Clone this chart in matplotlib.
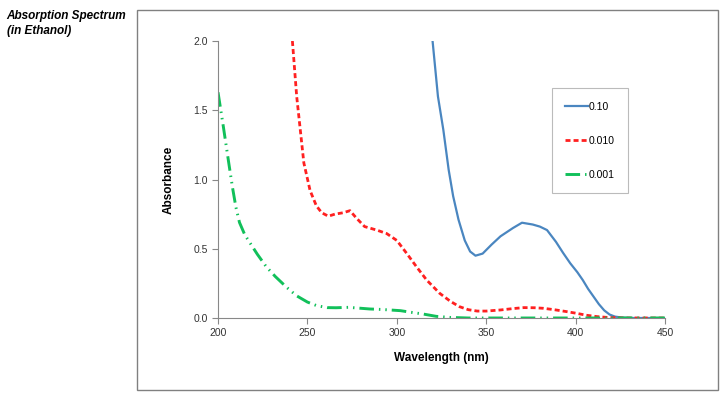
import matplotlib.pyplot as plt
from matplotlib.patches import Rectangle

plt.rcParams['font.family'] = ['Liberation Sans', 'DejaVu Sans']

# 0.10 series
wl_010 = [320, 323, 326, 329, 331.5, 334.5, 338, 341, 344, 348, 353, 358, 365, 370, 376, 380, 384, 389,
          393, 397, 401, 404, 407, 410, 413, 416, 419, 422, 426, 432, 440, 450]
ab_010 = [2.0, 1.6, 1.36, 1.07, 0.88, 0.71, 0.56, 0.48, 0.45, 0.465, 0.53, 0.59, 0.65, 0.688, 0.675, 0.66,
          0.635, 0.55, 0.47, 0.395, 0.33, 0.274, 0.21, 0.155, 0.1, 0.055, 0.025, 0.01, 0.003, 0.0, 0.0, 0.0]

# 0.010 series
wl_0010 = [241.6, 244, 246, 248, 251.5, 255, 258, 261.7, 265.4, 270, 273.8, 277.5, 282, 288.7, 294.3, 300,
           305.5, 311, 316.7, 324, 330, 335, 340, 345, 350, 358, 365, 371, 377, 382, 388, 395, 400, 406,
           412, 417, 422, 430, 440, 450]
ab_0010 = [2.0, 1.6, 1.36, 1.12, 0.92, 0.81, 0.76, 0.735, 0.75, 0.76, 0.775, 0.72, 0.66, 0.635, 0.61, 0.56,
           0.467, 0.37, 0.274, 0.178, 0.12, 0.082, 0.06, 0.05, 0.05, 0.058, 0.068, 0.075, 0.074, 0.07, 0.06,
           0.046, 0.035, 0.02, 0.01, 0.005, 0.002, 0.0, 0.0, 0.0]

# 0.001 series
wl_0001 = [200, 203, 206, 208, 210, 212, 215, 218, 222, 227, 232, 238.5, 244, 250, 255, 261, 266, 273,
           280, 285, 291, 296, 302, 307, 315, 322, 330, 340, 360, 400, 450]
ab_0001 = [1.63, 1.38, 1.12, 0.95, 0.8, 0.69, 0.6, 0.54, 0.46, 0.37, 0.3, 0.22, 0.16, 0.115, 0.09, 0.075,
           0.074, 0.077, 0.07, 0.065, 0.062, 0.058, 0.053, 0.043, 0.028, 0.012, 0.004, 0.0, 0.0, 0.0, 0.0]

labels = ['0.10', '0.010', '0.001']

fig = plt.figure(figsize=(7.26, 3.97), dpi=100)
ax = fig.add_axes([0.3003, 0.199, 0.6157, 0.6977])

# outer chart frame
fig.patches.append(Rectangle((0.1887, 0.0176), 0.8003, 0.957, transform=fig.transFigure,
                             fill=False, edgecolor='#808080', linewidth=1.0))

fig.text(0.009, 0.975, 'Absorption Spectrum\n(in Ethanol)', fontsize=8.5, fontweight='bold',
         fontstyle='italic', va='top', ha='left', linespacing=1.3)

ax.plot(wl_010, ab_010, color='#4a86c0', linewidth=1.6, label=labels[0])
ax.plot(wl_0010, ab_0010, color='#ff2020', linewidth=2.0, linestyle=(0, (1.8, 1.1)), label=labels[1])
ax.plot(wl_0001, ab_0001, color='#11c05a', linewidth=2.1,
        linestyle=(0, (5, 1.7, 0.5, 1.7, 0.5, 1.7)), label=labels[2])

ax.set_xlim(200, 450)
ax.set_ylim(0, 2.0)
ax.set_xticks([200, 250, 300, 350, 400, 450])
ax.set_yticks([0.0, 0.5, 1.0, 1.5, 2.0])
ax.set_yticklabels(['0.0', '0.5', '1.0', '1.5', '2.0'])

for side in ['top', 'right']:
    ax.spines[side].set_visible(False)
for side in ['left', 'bottom']:
    ax.spines[side].set_color('#888888')
    ax.spines[side].set_linewidth(0.8)
ax.tick_params(axis='both', colors='#888888', labelcolor='#333333', labelsize=7.5, length=4, width=0.8)

ax.set_xlabel('Wavelength (nm)', fontsize=8.5, fontweight='bold', labelpad=10)
ax.set_ylabel('Absorbance', fontsize=8.5, fontweight='bold', labelpad=13)

leg = ax.legend(loc='upper left', bbox_to_anchor=(0.747, 0.83), fontsize=7.5, frameon=True,
                fancybox=False, edgecolor='#aaaaaa', labelspacing=2.3, handlelength=2.2,
                handletextpad=0.05, borderpad=1.3, borderaxespad=0)
leg.get_frame().set_linewidth(0.8)

fig.savefig('out.png', dpi=100)
